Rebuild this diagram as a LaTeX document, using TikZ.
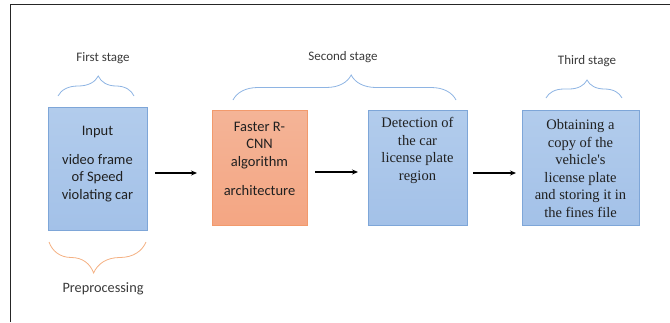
\documentclass[tikz,border=0pt]{standalone}
\usepackage{fontspec}
\newfontfamily\tnr[Ligatures=ResetAll]{Liberation Serif}
\newfontfamily\calib{Carlito}
\usetikzlibrary{arrows.meta,decorations.pathreplacing}
\definecolor{boxblue}{HTML}{A3C1E8}
\definecolor{boxbluetop}{HTML}{B2CCEC}
\definecolor{boxblueedge}{HTML}{7EA6D8}
\definecolor{boxorange}{HTML}{F4A683}
\definecolor{boxorangetop}{HTML}{F4B497}
\definecolor{boxorangeedge}{HTML}{F29A6C}
\definecolor{braceblue}{HTML}{8EB4E3}
\definecolor{braceorange}{HTML}{F4B183}
\definecolor{labelgray}{HTML}{3A3A3A}
\definecolor{txt}{HTML}{202020}
\tikzset{
  bluebox/.style={draw=boxblueedge, line width=1pt, top color=boxbluetop, bottom color=boxblue, inner sep=0pt, text=txt},
  orangebox/.style={draw=boxorangeedge, line width=1pt, top color=boxorangetop, bottom color=boxorange, inner sep=0pt, text=txt},
  stagelabel/.style={font=\calib\fontsize{13}{15}\selectfont, text=labelgray, inner sep=0pt},
  bracelineb/.style={draw=braceblue, line width=0.8pt, decorate},
  bracelineo/.style={draw=braceorange, line width=0.8pt, decorate},
  arr/.style={-{Stealth[length=6pt,width=5pt]}, line width=1.2pt, black},
}
\newcommand{\boxtext}[4]{\parbox[c][#2][t]{#1}{\centering\fontsize{14.5}{17.5}\selectfont\rule{0pt}{#3}#4\par}}
\begin{document}
\begin{tikzpicture}[x=1pt,y=-1pt]
\useasboundingbox (0,0) rectangle (670,322);
% frame
\draw[line width=1.8pt, black!85] (10.5,322) -- (10.5,4.5) -- (670,4.5);

% boxes
\node[bluebox, minimum width=99pt, minimum height=123pt] (b1) at (97.5,168.5)
  {\boxtext{95pt}{123pt}{28pt}{\calib Input\\[11.5pt]video frame\\of Speed\\violating car}};
\node[orangebox, minimum width=95pt, minimum height=115pt] (b2) at (259.5,167.5)
  {\boxtext{91pt}{115pt}{21pt}{\calib Faster R-\\CNN\\algorithm\\[11.5pt]architecture}};
\node[bluebox, minimum width=99pt, minimum height=115pt] (b3) at (417.5,167.5)
  {\boxtext{95pt}{115pt}{17.5pt}{\tnr Detection of\\the car\\license plate\\region}};
\node[bluebox, minimum width=117pt, minimum height=115pt] (b4) at (580.5,167.5)
  {\boxtext{113pt}{115pt}{19.5pt}{\tnr Obtaining a\\copy of the\\vehicle's\\license plate\\and storing it in\\the fines file}};

% arrows
\coordinate (a1s) at (155,173); \coordinate (a1e) at (197,173);
\coordinate (a2s) at (315,172); \coordinate (a2e) at (358,172);
\coordinate (a3s) at (473,173); \coordinate (a3e) at (516,173);
\draw[arr] (a1s) -- (a1e);
\draw[arr] (a2s) -- (a2e);
\draw[arr] (a3s) -- (a3e);

% braces
\coordinate (br1a) at (58,96); \coordinate (br1b) at (134,96);
\draw[bracelineb, decoration={brace, amplitude=20pt, aspect=0.53}] (br1a) -- (br1b);
\coordinate (br2a) at (233,100); \coordinate (br2b) at (456,100);
\draw[bracelineb, decoration={brace, amplitude=25pt, aspect=0.53}] (br2a) -- (br2b);
\coordinate (br3a) at (546,98); \coordinate (br3b) at (622,98);
\draw[bracelineb, decoration={brace, amplitude=18pt, aspect=0.54}] (br3a) -- (br3b);
\coordinate (br4a) at (146,242); \coordinate (br4b) at (49,242);
\draw[bracelineo, decoration={brace, amplitude=31pt, aspect=0.54}] (br4a) -- (br4b);

% labels
\node[stagelabel] (l1) at (103,58) {First stage};
\node[stagelabel] (l2) at (343,57) {Second stage};
\node[stagelabel] (l3) at (587,61) {Third stage};
\node[stagelabel, font=\calib\fontsize{14.3}{16}\selectfont] (l4) at (103,289) {Preprocessing};
\end{tikzpicture}
\end{document}
